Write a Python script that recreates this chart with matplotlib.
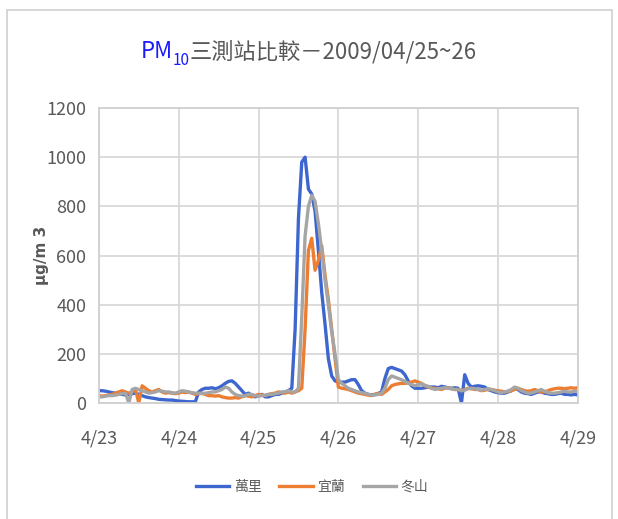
import numpy as np
import matplotlib.pyplot as plt
from matplotlib.patches import Rectangle
from matplotlib import font_manager

# hourly PM10 (ug/m3), 4/23 00h .. 4/29 00h
wanli = [50, 50, 48, 45, 42, 40, 38, 35, 33, 35, 38, 40, 35, 30, 25, 22, 20, 18, 15, 14, 13, 12, 12, 10,
         8, 7, 6, 5, 5, 5, 45, 55, 60, 60, 62, 58, 62, 70, 80, 88, 90, 80, 65, 50, 35, 40, 30, 25,
         30, 35, 25, 25, 30, 35, 35, 40, 45, 50, 60, 300, 750, 980, 1000, 870, 850, 780, 620, 450, 320, 180, 110, 90,
         85, 85, 85, 90, 95, 95, 75, 50, 40, 35, 33, 35, 38, 45, 100, 140, 145, 140, 135, 130, 115, 90, 70, 60,
         60, 60, 62, 65, 65, 65, 62, 68, 65, 62, 60, 62, 60, 0, 115, 80, 65, 68, 70, 68, 65, 55, 50, 45,
         42, 40, 40, 45, 50, 60, 55, 45, 40, 38, 35, 40, 45, 45, 40, 38, 35, 35, 38, 40, 35, 35, 33, 35, 33]
yilan = [30, 28, 30, 32, 35, 40, 45, 50, 45, 40, 45, 55, 0, 70, 60, 50, 45, 50, 55, 45, 40, 42, 40, 38,
         40, 45, 42, 45, 40, 35, 38, 40, 35, 30, 30, 28, 30, 25, 22, 20, 20, 22, 20, 25, 30, 28, 25, 30,
         35, 32, 30, 35, 38, 40, 45, 42, 40, 45, 40, 45, 50, 60, 300, 620, 670, 540, 580, 640, 520, 420, 300, 180,
         65, 60, 58, 55, 50, 45, 40, 38, 35, 32, 30, 35, 40, 35, 45, 55, 70, 75, 78, 80, 80, 82, 85, 90,
         85, 80, 70, 65, 60, 60, 58, 55, 60, 62, 58, 55, 55, 50, 55, 60, 58, 55, 55, 50, 52, 55, 55, 52,
         50, 48, 45, 48, 50, 55, 60, 55, 50, 48, 50, 55, 50, 45, 45, 50, 55, 58, 60, 60, 58, 60, 62, 60, 62]
dongshan = [25, 25, 28, 30, 30, 32, 35, 38, 40, 0, 55, 60, 55, 50, 45, 40, 42, 45, 50, 48, 45, 45, 42, 40,
            45, 50, 48, 45, 42, 40, 40, 38, 40, 42, 45, 45, 50, 55, 65, 60, 45, 35, 30, 28, 30, 35, 35, 30,
            28, 30, 32, 35, 35, 38, 40, 45, 45, 50, 45, 45, 60, 350, 680, 800, 845, 820, 730, 620, 500, 400, 290, 200,
            95, 80, 70, 60, 55, 50, 45, 42, 40, 35, 32, 33, 35, 40, 60, 95, 110, 105, 100, 95, 88, 80, 75, 70,
            75, 78, 72, 68, 60, 55, 58, 60, 62, 60, 58, 55, 55, 50, 52, 58, 60, 58, 55, 52, 55, 58, 55, 50,
            45, 42, 45, 48, 55, 65, 60, 50, 45, 40, 40, 45, 50, 55, 48, 42, 40, 40, 42, 45, 48, 45, 45, 48, 48]
day_labels = ['4/23', '4/24', '4/25', '4/26', '4/27', '4/28', '4/29']

hours = np.arange(len(wanli))

cjk = 'Noto Sans CJK TC'
names = {f.name for f in font_manager.fontManager.ttflist}
num_font = 'Liberation Sans Narrow' if 'Liberation Sans Narrow' in names else cjk
plt.rcParams['font.family'] = [cjk, 'DejaVu Sans']

fig = plt.figure(figsize=(6.18, 5.19), dpi=100)
fig.patches.append(Rectangle((7 / 618, -0.01), 605 / 618, 1 - 10 / 519 + 0.01,
                             transform=fig.transFigure, fill=False,
                             edgecolor='#d0d0d0', linewidth=1.2))

ax = fig.add_axes([0.160, 0.2235, 0.775, 0.5684])
ax.plot(hours, wanli, color='#3d66cf', linewidth=2.4, label='萬里')
ax.plot(hours, yilan, color='#ed7d31', linewidth=2.4, label='宜蘭')
ax.plot(hours, dongshan, color='#a5a5a5', linewidth=2.4, label='冬山')

ax.set_xlim(0, 144)
ax.set_ylim(0, 1200)
ax.set_xticks(np.arange(0, 145, 24))
ax.set_xticklabels(day_labels)
ax.set_yticks(np.arange(0, 1201, 200))
ax.grid(True, color='#d9d9d9', linewidth=1.3)
ax.set_axisbelow(True)
for sp in ax.spines.values():
    sp.set_color('#d0d0d0')
    sp.set_linewidth(1.3)
ax.tick_params(length=0, labelcolor='#595959', labelsize=13)
ax.tick_params(axis='x', pad=19)
ax.tick_params(axis='y', pad=9)
for lab in ax.get_xticklabels() + ax.get_yticklabels():
    lab.set_fontfamily(num_font)

ax.set_ylabel('μg/m 3', fontsize=11, fontweight='bold', color='#595959',
              family=['DejaVu Sans'], labelpad=-2)

# title: blue PM10 followed by the grey remainder
t1 = fig.text(0.228, 0.888, 'PM', fontsize=16, color='#1a1aff', family=[num_font])
t2 = ax.annotate('10', xy=(1, 0), xycoords=t1, xytext=(0, -4),
                 textcoords='offset points', fontsize=11, color='#1a1aff',
                 family=[num_font], va='bottom')
ax.annotate('三測站比較－2009/04/25~26', xy=(1, 0), xycoords=t2,
            xytext=(0, 4), textcoords='offset points', fontsize=16,
            color='#595959', va='bottom', fontweight='light')

leg = fig.legend(loc='center', bbox_to_anchor=(0.505, 0.062), ncol=3,
                 frameon=False, fontsize=10, handlelength=2.4,
                 columnspacing=1.3, handletextpad=0.3)
for txt in leg.get_texts():
    txt.set_color('#595959')

fig.savefig('out.png', dpi=100)
